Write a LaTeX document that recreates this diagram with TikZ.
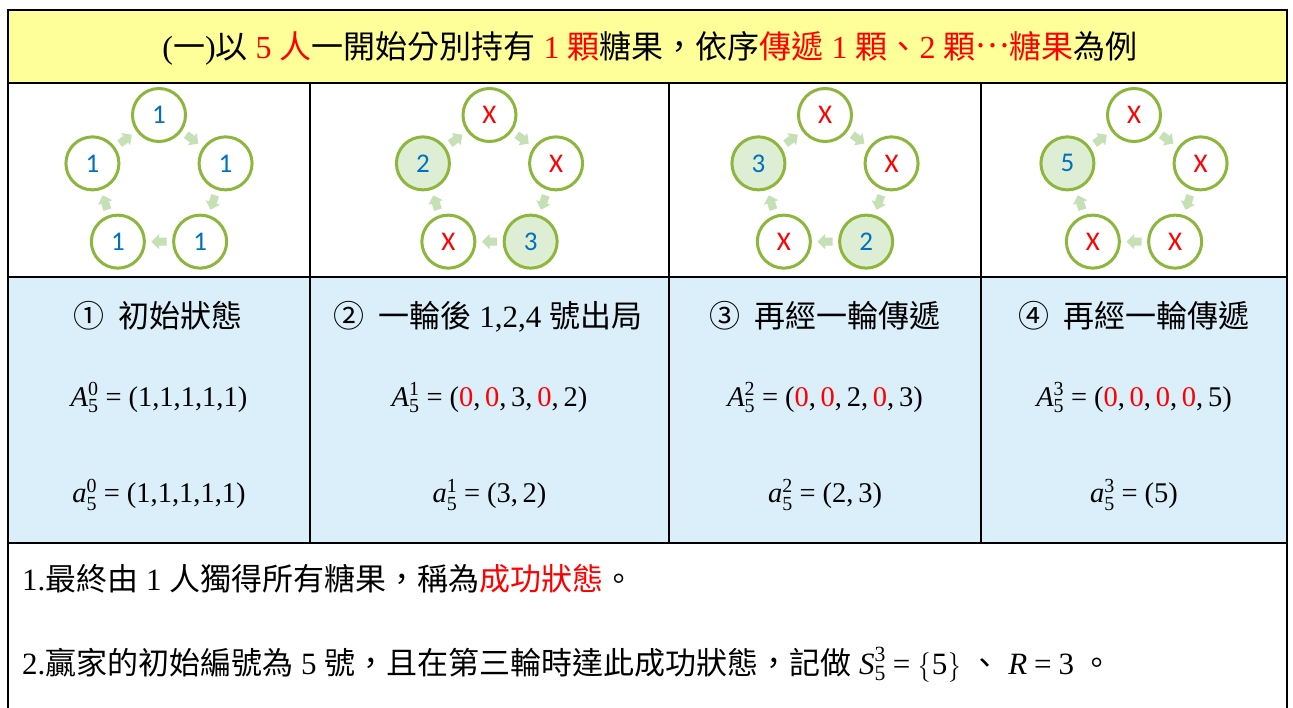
\documentclass[tikz,border=0pt]{standalone}
\usepackage{amsmath}
\usepackage{fontspec}
\setmainfont{Liberation Serif}
\newfontfamily\cjkfont{Noto Sans CJK TC}
\newfontfamily\circfont{Carlito}
\usetikzlibrary{calc}
\newcommand{\cj}[1]{{\cjkfont #1}}
\newcommand{\rd}[1]{\textcolor{xred}{#1}}
\newcommand{\seqv}[3]{\text{\itshape #1}^{\text{#2}}_{\text{#3}}\mathrel{\text{=}}}
\definecolor{hdr}{RGB}{255,255,153}
\definecolor{rowblue}{RGB}{218,239,250}
\definecolor{ringgreen}{RGB}{140,182,60}
\definecolor{fillgreen}{RGB}{222,238,212}
\definecolor{arrgreen}{RGB}{197,224,180}
\definecolor{numblue}{RGB}{0,112,192}
\definecolor{xred}{RGB}{255,0,0}
\tikzset{
  ring/.style={circle, draw=ringgreen, line width=3pt, minimum size=53pt, inner sep=0pt, fill=white, font=\circfont\fontsize{27}{27}\selectfont},
  alive/.style={ring, fill=fillgreen, text=numblue},
  dead/.style={ring, text=xred},
  fresh/.style={ring, text=numblue},
  gridline/.style={line width=2.5pt, black},
  hcell/.style={font=\fontsize{32}{38}\selectfont, anchor=base, inner sep=0pt},
  cell/.style={font=\fontsize{31}{37}\selectfont, anchor=base, inner sep=0pt},
  mcell/.style={font=\fontsize{28.5}{34}\selectfont, anchor=base, inner sep=0pt},
  note/.style={font=\fontsize{31}{37}\selectfont, anchor=base west, inner sep=0pt},
}
\newcommand{\passarr}[3]{%
  \fill[arrgreen, shift={($(#1)!0.5!(#2)$)}, rotate=#3]
    (-7.5,-4) -- (0,-4) -- (0,-7.5) -- (7.5,0) -- (0,7.5) -- (0,4) -- (-7.5,4) -- cycle;}
\newcommand{\arrows}[1]{%
  \passarr{#1t}{#1r}{-36}\passarr{#1r}{#1br}{-108}\passarr{#1br}{#1bl}{180}%
  \passarr{#1bl}{#1l}{108}\passarr{#1l}{#1t}{36}}
\begin{document}
\begin{tikzpicture}[x=1pt,y=-1pt]
\useasboundingbox (0,0) rectangle (1293,707);
\fill[white] (0,0) rectangle (1293,707);
% fills
\fill[hdr] (8,10) rectangle (1287,83);
\fill[rowblue] (8,277) rectangle (1287,543);
% grid
\draw[gridline] (8,10) -- (1287,10);
\draw[gridline] (8,83) -- (1287,83);
\draw[gridline] (8,277) -- (1287,277);
\draw[gridline] (8,543) -- (1287,543);
\draw[gridline] (8,8.75) -- (8,710);
\draw[gridline] (1287,8.75) -- (1287,710);
\draw[gridline] (310,83) -- (310,543);
\draw[gridline] (669,83) -- (669,543);
\draw[gridline] (981,83) -- (981,543);
% header
\node[hcell] (title) at (650,58) {(\cj{一})\cj{以} \rd{5 \cj{人}}\cj{一開始分別持有} \rd{1 \cj{顆}}\cj{糖果，依序}\rd{\cj{傳遞} 1 \cj{顆、}2 \cj{顆\raisebox{0.32em}{…}糖果}}\cj{為例}};
% column 1
\node[fresh] (at)  at ($(159,185)+(-90:70)$) {1};
\node[fresh] (ar)  at ($(159,185)+(-18:70)$) {1};
\node[fresh] (abr) at ($(159,185)+(54:70)$) {1};
\node[fresh] (abl) at ($(159,185)+(126:70)$) {1};
\node[fresh] (al)  at ($(159,185)+(198:70)$) {1};
\arrows{a}
% column 2
\node[dead]  (bt)  at ($(489.5,185)+(-90:70)$) {X};
\node[dead]  (br)  at ($(489.5,185)+(-18:70)$) {X};
\node[alive] (bbr) at ($(489.5,185)+(54:70)$) {3};
\node[dead]  (bbl) at ($(489.5,185)+(126:70)$) {X};
\node[alive] (bl)  at ($(489.5,185)+(198:70)$) {2};
\arrows{b}
% column 3
\node[dead]  (ct)  at ($(825,185)+(-90:70)$) {X};
\node[dead]  (cr)  at ($(825,185)+(-18:70)$) {X};
\node[alive] (cbr) at ($(825,185)+(54:70)$) {2};
\node[dead]  (cbl) at ($(825,185)+(126:70)$) {X};
\node[alive] (cl)  at ($(825,185)+(198:70)$) {3};
\arrows{c}
% column 4
\node[dead]  (dt)  at ($(1134,185)+(-90:70)$) {X};
\node[dead]  (dr)  at ($(1134,185)+(-18:70)$) {X};
\node[dead]  (dbr) at ($(1134,185)+(54:70)$) {X};
\node[dead]  (dbl) at ($(1134,185)+(126:70)$) {X};
\node[alive] (dl)  at ($(1134,185)+(198:70)$) {5};
\arrows{d}
% row 3 titles
\node[cell] (t1) at (158,327) {\cj{①\hspace{0.45em}初始狀態}};
\node[cell] (t2) at (488,327) {\cj{②\hspace{0.45em}一輪後} 1,2,4 \cj{號出局}};
\node[cell] (t3) at (825,327) {\cj{③\hspace{0.45em}再經一輪傳遞}};
\node[cell] (t4) at (1134,327) {\cj{④\hspace{0.45em}再經一輪傳遞}};
% A lines
\node[mcell] (A1) at (159,406) {$\seqv{A}{0}{5}\text{(1,1,1,1,1)}$};
\node[mcell] (A2) at (489.5,406) {$\seqv{A}{1}{5}\text{(\rd{0},\,\rd{0},\,3,\,\rd{0},\,2)}$};
\node[mcell] (A3) at (825,406) {$\seqv{A}{2}{5}\text{(\rd{0},\,\rd{0},\,2,\,\rd{0},\,3)}$};
\node[mcell] (A4) at (1134,406) {$\seqv{A}{3}{5}\text{(\rd{0},\,\rd{0},\,\rd{0},\,\rd{0},\,5)}$};
% a lines
\node[mcell] (a1) at (159,502) {$\seqv{a}{0}{5}\text{(1,1,1,1,1)}$};
\node[mcell] (a2) at (489.5,502) {$\seqv{a}{1}{5}\text{(3,\,2)}$};
\node[mcell] (a3) at (825,502) {$\seqv{a}{2}{5}\text{(2,\,3)}$};
\node[mcell] (a4) at (1134,502) {$\seqv{a}{3}{5}\text{(5)}$};
% notes
\node[note] (n1) at (22,590) {1.\cj{最終由} 1 \cj{人獨得所有糖果，稱為}\rd{\cj{成功狀態}}\cj{。}};
\node[note] (n2) at (22,674) {2.\cj{贏家的初始編號為} 5 \cj{號，且在第三輪時達此成功狀態，記做} $\seqv{S}{3}{5}\bigl\{\text{5}\bigr\}$ \cj{、} $\text{\itshape R}\mathrel{\text{=}}\text{3}$ \cj{。}};
\end{tikzpicture}
\end{document}
